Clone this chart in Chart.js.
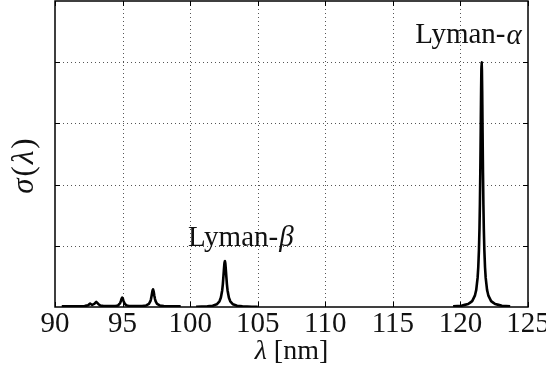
<!DOCTYPE html>
<html>
<head>
<meta charset="utf-8">
<script src="https://cdn.jsdelivr.net/npm/chart.js@4/dist/chart.umd.min.js"></script>
<style>
  html, body { margin: 0; padding: 0; background: #fff; }
  #wrap { width: 546px; height: 375px; }
</style>
</head>
<body>
<div id="wrap"><canvas id="c" width="546" height="375"></canvas></div>
<script>
// Wavelength ticks (nm)
const xTickValues = [90, 95, 100, 105, 110, 115, 120, 125];
// Horizontal grid levels of the cross-section axis
const yGridValues = [0.2, 0.4, 0.6, 0.8];

// Higher Lyman series lines (Ly-gamma, Ly-delta and beyond)
const seriesLowX = [90.5, 91.5, 92.2, 92.45, 92.6, 92.75, 92.9, 93.05, 93.2, 93.35, 93.6,
  94.2, 94.47, 94.67, 94.77, 94.82, 94.87, 94.92, 94.97, 95.02, 95.07, 95.12, 95.17, 95.27, 95.47, 95.8,
  96.45, 96.75, 96.95, 97.05, 97.1, 97.15, 97.2, 97.25, 97.3, 97.35, 97.4, 97.45, 97.55, 97.75, 98.05, 98.8, 99.3];
const seriesLowY = [0.002, 0.002, 0.003, 0.006, 0.011, 0.007, 0.010, 0.017, 0.010, 0.005, 0.003,
  0.003, 0.003, 0.005, 0.010, 0.013, 0.019, 0.026, 0.031, 0.027, 0.020, 0.014, 0.010, 0.006, 0.003, 0.003,
  0.003, 0.005, 0.010, 0.018, 0.025, 0.037, 0.050, 0.058, 0.051, 0.037, 0.026, 0.018, 0.010, 0.005, 0.003, 0.002, 0.002];

// Lyman-beta profile
const lyBetaX = [100.44, 101.27, 101.67, 101.97, 102.17, 102.27, 102.37, 102.42, 102.47, 102.51, 102.54,
  102.57, 102.60, 102.63, 102.67, 102.72, 102.77, 102.87, 102.97, 103.17, 103.47, 103.87, 104.57, 105.0];
const lyBetaY = [0.0008, 0.0020, 0.0041, 0.0088, 0.0185, 0.030, 0.054, 0.075, 0.104, 0.129, 0.144,
  0.150, 0.144, 0.129, 0.104, 0.075, 0.054, 0.030, 0.0185, 0.0088, 0.0041, 0.0020, 0.00084, 0.00058];

// Lyman-alpha profile
const lyAlphaX = [119.46, 120.07, 120.57, 120.87, 121.07, 121.17, 121.27, 121.32, 121.37, 121.41, 121.44,
  121.47, 121.49, 121.51, 121.53, 121.55, 121.57, 121.59, 121.61, 121.63, 121.65, 121.67, 121.70, 121.73,
  121.77, 121.82, 121.87, 121.97, 122.07, 122.27, 122.57, 123.07, 123.68];
const lyAlphaY = [0.0022, 0.0043, 0.0096, 0.0193, 0.037, 0.056, 0.095, 0.130, 0.186, 0.257, 0.334,
  0.438, 0.523, 0.616, 0.707, 0.774, 0.800, 0.774, 0.707, 0.616, 0.523, 0.438, 0.334, 0.257,
  0.186, 0.130, 0.095, 0.056, 0.037, 0.0193, 0.0096, 0.0043, 0.0022];

const toPoints = (xs, ys) => xs.map((x, i) => ({ x: x, y: ys[i] }));

const SERIF = '"Liberation Serif", "DejaVu Serif", serif';

// Draw a run of text pieces (some italic) centred on (x, y), with optional gap between pieces
function drawRich(ctx, parts, x, y, size, gap) {
  gap = gap || 0;
  const fontFor = p => (p.it ? 'italic ' : '') + size + 'px ' + SERIF;
  let total = 0;
  parts.forEach(p => { ctx.font = fontFor(p); p.w = ctx.measureText(p.t).width; total += p.w; });
  total += gap * (parts.length - 1);
  let cx = x - total / 2;
  ctx.textBaseline = 'middle';
  ctx.textAlign = 'left';
  parts.forEach(p => { ctx.font = fontFor(p); ctx.fillText(p.t, cx, y); cx += p.w + gap; });
}

const decor = {
  id: 'decor',
  beforeDatasetsDraw(chart) {
    const { ctx, chartArea: a, scales: { x, y } } = chart;
    ctx.save();
    ctx.strokeStyle = '#555';
    ctx.lineWidth = 1;
    ctx.setLineDash([1, 3]);
    xTickValues.forEach(v => {
      if (v === x.min || v === x.max) return;
      const px = Math.round(x.getPixelForValue(v)) + 0.5;
      ctx.beginPath(); ctx.moveTo(px, a.top); ctx.lineTo(px, a.bottom); ctx.stroke();
    });
    yGridValues.forEach(v => {
      const py = Math.round(y.getPixelForValue(v)) + 0.5;
      ctx.beginPath(); ctx.moveTo(a.left, py); ctx.lineTo(a.right, py); ctx.stroke();
    });
    ctx.restore();
  },
  afterDatasetsDraw(chart) {
    const { ctx, chartArea: a, scales: { x, y } } = chart;
    ctx.save();
    ctx.setLineDash([]);
    ctx.strokeStyle = '#000';
    // inward tick marks
    ctx.lineWidth = 1;
    const tl = 5;
    xTickValues.forEach(v => {
      const px = Math.round(x.getPixelForValue(v)) + 0.5;
      ctx.beginPath();
      ctx.moveTo(px, a.bottom); ctx.lineTo(px, a.bottom - tl);
      ctx.moveTo(px, a.top); ctx.lineTo(px, a.top + tl);
      ctx.stroke();
    });
    yGridValues.forEach(v => {
      const py = Math.round(y.getPixelForValue(v)) + 0.5;
      ctx.beginPath();
      ctx.moveTo(a.left, py); ctx.lineTo(a.left + tl, py);
      ctx.moveTo(a.right, py); ctx.lineTo(a.right - tl, py);
      ctx.stroke();
    });
    // frame
    ctx.lineWidth = 1.5;
    ctx.strokeRect(a.left, a.top, a.right - a.left, a.bottom - a.top);

    ctx.fillStyle = '#111';
    // line labels
    drawRich(ctx, [{ t: 'Lyman-' }, { t: 'β', it: true }],
      x.getPixelForValue(103.75), y.getPixelForValue(0.225), 29, 1);
    drawRich(ctx, [{ t: 'Lyman-' }, { t: 'α', it: true }],
      x.getPixelForValue(120.6), y.getPixelForValue(0.886), 29, 1);

    // axis titles
    drawRich(ctx, [{ t: 'λ', it: true }, { t: ' [nm]' }], (a.left + a.right) / 2, 352, 28);
    ctx.translate(25, (a.top + a.bottom) / 2 + 12);
    ctx.rotate(-Math.PI / 2);
    drawRich(ctx, [{ t: 'σ', it: true }, { t: '(' }, { t: 'λ', it: true }, { t: ')' }], 0, 0, 31, 2);
    ctx.restore();
  }
};

const lineStyle = {
  borderColor: '#000',
  borderWidth: 2.6,
  pointRadius: 0,
  fill: false,
  tension: 0.0001,
  borderJoinStyle: 'round',
  borderCapStyle: 'butt'
};

new Chart(document.getElementById('c'), {
  type: 'line',
  data: {
    datasets: [
      Object.assign({ data: toPoints(seriesLowX, seriesLowY) }, lineStyle),
      Object.assign({ data: toPoints(lyBetaX, lyBetaY) }, lineStyle),
      Object.assign({ data: toPoints(lyAlphaX, lyAlphaY) }, lineStyle)
    ]
  },
  options: {
    responsive: false,
    devicePixelRatio: 1,
    animation: false,
    layout: { padding: { top: 1, right: 18, left: 0, bottom: 0 } },
    plugins: { legend: { display: false }, tooltip: { enabled: false } },
    scales: {
      x: {
        type: 'linear',
        min: 90,
        max: 125,
        afterBuildTicks: s => { s.ticks = xTickValues.map(v => ({ value: v })); },
        ticks: {
          color: '#111',
          padding: -8,
          maxRotation: 0,
          font: { family: SERIF, size: 29 },
          callback: v => String(v)
        },
        grid: { display: false },
        border: { display: false },
        afterFit: s => { s.height = 68; s.paddingLeft = 0; s.paddingRight = 0; }
      },
      y: {
        min: 0,
        max: 1,
        ticks: { display: false },
        grid: { display: false },
        border: { display: false },
        afterFit: s => { s.width = 55; }
      }
    }
  },
  plugins: [decor]
});
</script>
</body>
</html>
